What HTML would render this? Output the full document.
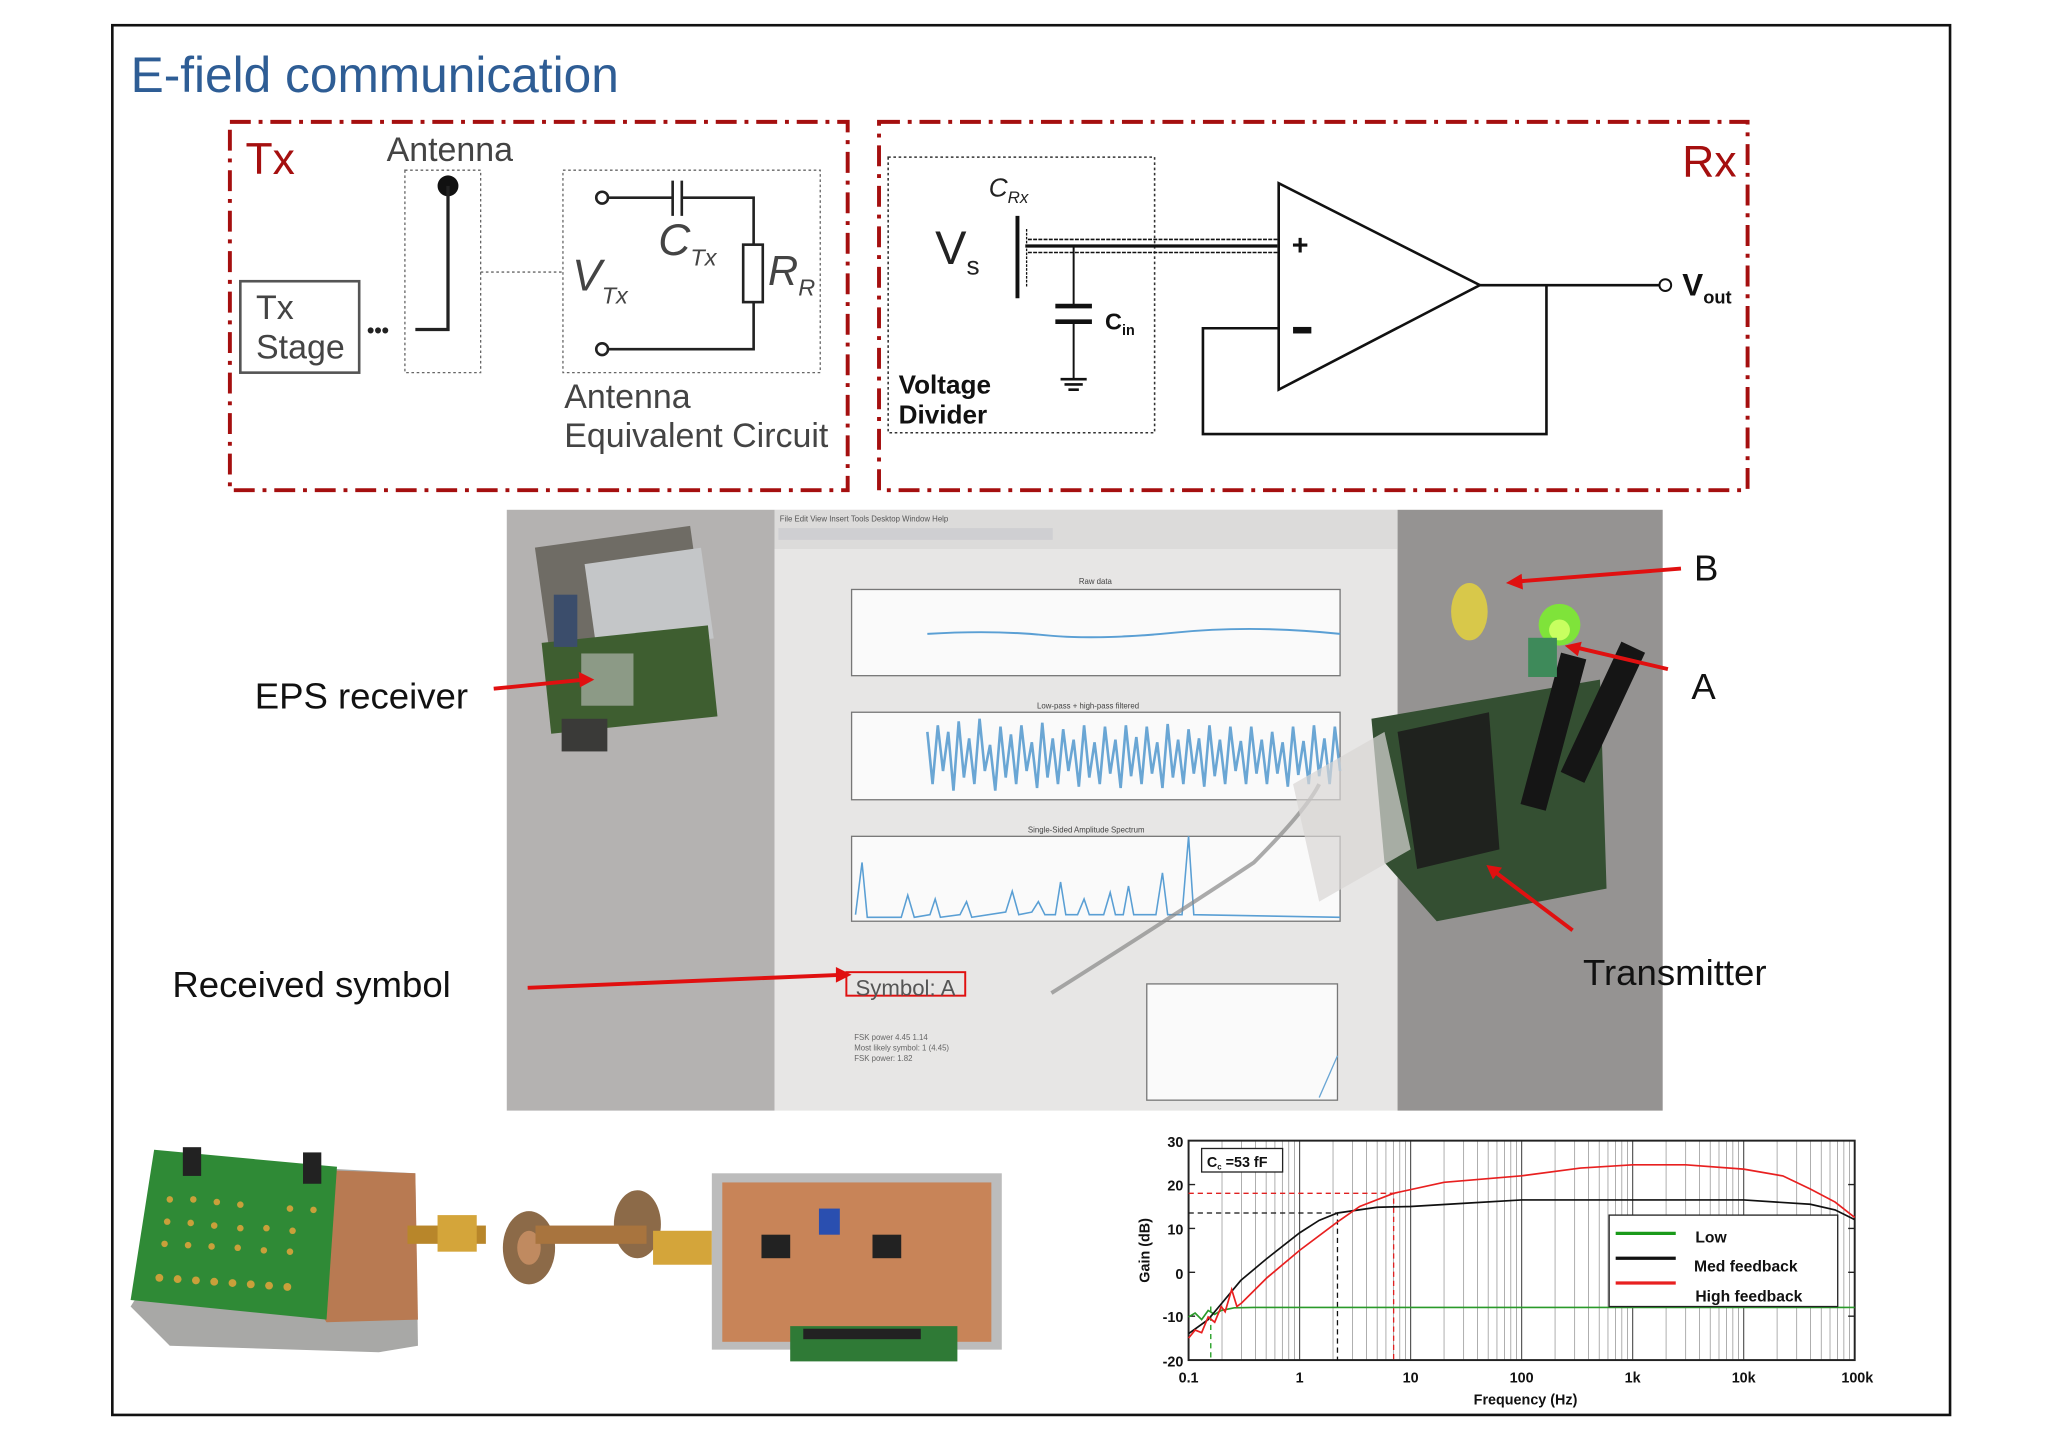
<!DOCTYPE html>
<html><head><meta charset="utf-8"><style>
html,body{margin:0;padding:0;background:#fff;}
svg{display:block;}
text{font-family:"Liberation Sans",sans-serif;}
</style></head><body>
<svg width="2048" height="1448" viewBox="0 0 1568 1108" xmlns="http://www.w3.org/2000/svg">
<rect x="0" y="0" width="1568" height="1108" fill="#fff"/>
<rect x="86" y="19" width="1407" height="1064" fill="none" stroke="#111" stroke-width="2"/>
<text x="100" y="70" font-size="38" fill="#2e5d95">E-field communication</text>

<g fill="none" stroke="#a50f0f" stroke-width="3" stroke-dasharray="16,6,3,6">
<rect x="176" y="93" width="473" height="282"/>
<rect x="673" y="93" width="665" height="282"/>
</g>
<text x="188" y="133" font-size="34" fill="#a50f0f">Tx</text>
<text x="1288" y="135" font-size="34" fill="#a50f0f">Rx</text>
<text x="296" y="123" font-size="26" fill="#444">Antenna</text>
<rect x="310" y="130" width="58" height="155" fill="none" stroke="#666" stroke-width="1" stroke-dasharray="2,2"/>
<circle cx="343" cy="142" r="8" fill="#111"/>
<path d="M343 142 V252 H318" fill="none" stroke="#222" stroke-width="2.5"/>
<text x="281" y="258" font-size="16" fill="#222" font-weight="bold">•••</text>
<rect x="184" y="215" width="91" height="70" fill="none" stroke="#555" stroke-width="2"/>
<text x="196" y="244" font-size="26" fill="#444">Tx</text>
<text x="196" y="274" font-size="26" fill="#444">Stage</text>
<line x1="368" y1="208" x2="430" y2="208" stroke="#666" stroke-dasharray="2,2"/>
<rect x="431" y="130" width="197" height="155" fill="none" stroke="#666" stroke-width="1" stroke-dasharray="2,2"/>
<circle cx="461" cy="151" r="4.5" fill="#fff" stroke="#222" stroke-width="2"/>
<circle cx="461" cy="267" r="4.5" fill="#fff" stroke="#222" stroke-width="2"/>
<path d="M466 151 H515 M522 151 H577 V187 M577 231 V267 H466" fill="none" stroke="#222" stroke-width="2"/>
<path d="M515 138 V165 M522 138 V165" stroke="#222" stroke-width="2"/>
<rect x="569" y="187" width="15" height="44" fill="#fff" stroke="#222" stroke-width="2"/>
<text x="504" y="195" font-size="34" font-style="italic" fill="#444" font-family="Liberation Serif,serif">C<tspan font-size="18" dy="8">Tx</tspan></text>
<text x="438" y="222" font-size="34" font-style="italic" fill="#444" font-family="Liberation Serif,serif">V<tspan font-size="18" dy="10">Tx</tspan></text>
<text x="588" y="218" font-size="32" font-style="italic" fill="#444" font-family="Liberation Serif,serif">R<tspan font-size="18" dy="8">R</tspan></text>
<text x="432" y="312" font-size="26" fill="#444">Antenna</text>
<text x="432" y="342" font-size="26" fill="#444">Equivalent Circuit</text>

<rect x="680" y="120" width="204" height="211" fill="none" stroke="#333" stroke-width="1.2" stroke-dasharray="2,2"/>
<text x="757" y="150" font-size="20" font-style="italic" fill="#222" font-family="Liberation Serif,serif">C<tspan font-size="13" dy="5">Rx</tspan></text>
<text x="716" y="202" font-size="36" fill="#222">V<tspan font-size="20" dy="8">s</tspan></text>
<path d="M779 165 V228" stroke="#111" stroke-width="3"/>
<path d="M786 175 V220" stroke="#111" stroke-width="1" stroke-dasharray="2,1"/>
<path d="M785 188 H978" stroke="#111" stroke-width="2.5"/>
<path d="M787 183 H978 M787 193 H978" stroke="#111" stroke-width="1.2" stroke-dasharray="3,1"/>
<path d="M822 188 V233 M822 246 V290" stroke="#111" stroke-width="1.5"/>
<path d="M808 234 H836 M808 246 H836" stroke="#111" stroke-width="3.5"/>
<path d="M812 290 H832 M815 294 H829 M818 298 H826" stroke="#111" stroke-width="2"/>
<text x="846" y="252" font-size="18" font-weight="bold" fill="#111">C<tspan font-size="11" dy="4">in</tspan></text>
<text x="688" y="301" font-size="20" font-weight="bold" fill="#111">Voltage</text>
<text x="688" y="324" font-size="20" font-weight="bold" fill="#111">Divider</text>
<polygon points="979,140 979,298 1133,218" fill="#fff" stroke="#111" stroke-width="2"/>
<text x="989" y="195" font-size="22" font-weight="bold" fill="#111">+</text>
<rect x="990" y="250" width="14" height="5" fill="#111"/>
<path d="M1133 218 H1270 M1184 218 V332 H921 V251 H979" fill="none" stroke="#111" stroke-width="2"/>
<circle cx="1275" cy="218" r="4.5" fill="#fff" stroke="#111" stroke-width="1.5"/>
<text x="1288" y="226" font-size="24" font-weight="bold" fill="#111">V<tspan font-size="14" dy="6">out</tspan></text>

<rect x="388" y="390" width="205" height="460" fill="#b4b2b1"/>
<rect x="593" y="390" width="477" height="460" fill="#e7e6e5"/>
<rect x="1070" y="390" width="203" height="460" fill="#959392"/>
<rect x="593" y="390" width="477" height="30" fill="#dcdbda"/>
<text x="597" y="399" font-size="6" fill="#555">File  Edit  View  Insert  Tools  Desktop  Window  Help</text>
<rect x="596" y="404" width="210" height="9" fill="#cfcfd2"/>
<g fill="#fafafa" stroke="#777" stroke-width="1">
<rect x="652" y="451" width="374" height="66"/>
<rect x="652" y="545" width="374" height="67"/>
<rect x="652" y="640" width="374" height="65"/>
<rect x="878" y="753" width="146" height="89"/>
</g>
<text x="826" y="447" font-size="6" fill="#444">Raw data</text>
<text x="794" y="542" font-size="6" fill="#444">Low-pass + high-pass filtered</text>
<text x="787" y="637" font-size="6" fill="#444">Single-Sided Amplitude Spectrum</text>
<path d="M710 485 Q760 482 800 486 T900 484 T1026 485" fill="none" stroke="#5a9fd4" stroke-width="1.5"/>
<path d="M710 560 L714 600 L718 555 L722 590 L726 560 L730 605 L734 552 L738 595 L742 565 L746 600 L750 550 L754 590 L758 570 L762 605 L766 556 L770 595 L774 562 L778 600 L782 555 L786 590 L790 568 L794 603 L798 553 L802 595 L806 565 L810 600 L814 558 L818 590 L822 566 L826 602 L830 555 L834 595 L838 568 L842 600 L846 556 L850 592 L854 566 L858 603 L862 555 L866 594 L870 564 L874 600 L878 556 L882 592 L886 568 L890 603 L894 554 L898 595 L902 566 L906 600 L910 558 L914 592 L918 565 L922 602 L926 555 L930 594 L934 566 L938 600 L942 556 L946 590 L950 567 L954 600 L958 556 L962 592 L966 566 L970 600 L974 560 L978 592 L982 568 L986 602 L990 556 L994 593 L998 567 L1002 600 L1006 555 L1010 594 L1014 565 L1018 600 L1022 556 L1026 590" fill="none" stroke="#6aa6d4" stroke-width="2"/>
<path d="M655 700 L660 660 L664 702 L690 702 L695 685 L700 702 L712 700 L716 688 L720 702 L735 700 L740 690 L744 702 L770 698 L775 682 L780 700 L790 698 L795 690 L800 700 L808 700 L812 675 L816 700 L825 700 L830 688 L834 700 L845 700 L850 683 L854 700 L860 700 L864 678 L868 700 L885 700 L890 668 L894 700 L905 700 L910 640 L914 700 L1026 702" fill="none" stroke="#5a9fd4" stroke-width="1.2"/>
<rect x="648" y="744" width="91" height="18" fill="none" stroke="#e01010" stroke-width="1.5"/>
<text x="655" y="762" font-size="17" fill="#555">Symbol: A</text>
<text x="654" y="796" font-size="6" fill="#666">FSK power 4.45 1.14</text>
<text x="654" y="804" font-size="6" fill="#666">Most likely symbol: 1 (4.45)</text>
<text x="654" y="812" font-size="6" fill="#666">FSK power: 1.82</text>
<path d="M1010 840 L1024 808" stroke="#6aa6d4"/>
<path d="M805 760 Q900 700 960 660 Q1000 620 1010 600" fill="none" stroke="#888" stroke-width="3" opacity="0.7"/>
<rect x="418" y="410" width="120" height="130" fill="#6f6c65" transform="rotate(-8 478 475)"/>
<rect x="452" y="425" width="90" height="70" fill="#c4c6c8" transform="rotate(-8 497 460)"/>
<rect x="418" y="485" width="128" height="70" fill="#3e5e30" transform="rotate(-6 482 520)"/>
<rect x="445" y="500" width="40" height="40" fill="#8c9a86"/>
<rect x="424" y="455" width="18" height="40" fill="#3b4d6b"/>
<rect x="430" y="550" width="35" height="25" fill="#3a3a38"/>
<polygon points="1050,550 1225,520 1230,680 1100,705 1060,660" fill="#344f32"/>
<polygon points="1070,560 1140,545 1148,650 1085,665" fill="#1f221e"/>
<rect x="1178" y="500" width="20" height="120" fill="#151515" transform="rotate(15 1189 565)"/>
<rect x="1215" y="490" width="20" height="110" fill="#151515" transform="rotate(25 1226 550)"/>
<ellipse cx="1125" cy="468" rx="14" ry="22" fill="#d8c84a"/>
<circle cx="1194" cy="478" r="16" fill="#7fe33a"/>
<circle cx="1194" cy="482" r="8" fill="#c8ff60"/>
<rect x="1170" y="488" width="22" height="30" fill="#3e8a5a"/>
<polygon points="990,600 1060,560 1080,650 1010,690" fill="#d8d6d4" opacity="0.7"/>
<g stroke="#e01010" stroke-width="3" fill="none">
<path d="M378 527 L448 520"/>
<path d="M1287 435 L1160 445"/>
<path d="M1277 512 L1205 495"/>
<path d="M1204 712 L1143 666"/>
<path d="M404 756 L645 746"/>
</g>
<g fill="#e01010">
<polygon points="455,520 443,514 444,526"/>
<polygon points="1153,446 1165,439 1166,451"/>
<polygon points="1198,494 1211,491 1208,502"/>
<polygon points="1138,662 1150,664 1143,673"/>
<polygon points="652,746 640,740 640,752"/>
</g>
<text x="195" y="542" font-size="28" fill="#111">EPS receiver</text>
<text x="132" y="763" font-size="28" fill="#111">Received symbol</text>
<text x="1297" y="444" font-size="28" fill="#111">B</text>
<text x="1295" y="535" font-size="28" fill="#111">A</text>
<text x="1212" y="754" font-size="28" fill="#111">Transmitter</text>

<polygon points="100,1000 130,1030 290,1035 320,1030 318,898 170,890" fill="#a8a8a6"/>
<polygon points="170,893 318,898 320,1010 250,1012" fill="#b87a52"/>
<polygon points="118,880 258,893 250,1010 100,995" fill="#2f8a36"/>
<g fill="#c9a03a">
<circle cx="130" cy="918" r="2.5"/><circle cx="148" cy="918" r="2.5"/><circle cx="166" cy="920" r="2.5"/><circle cx="184" cy="922" r="2.5"/><circle cx="222" cy="925" r="2.5"/><circle cx="240" cy="926" r="2.5"/>
<circle cx="128" cy="935" r="2.5"/><circle cx="146" cy="936" r="2.5"/><circle cx="164" cy="938" r="2.5"/><circle cx="184" cy="940" r="2.5"/><circle cx="204" cy="940" r="2.5"/><circle cx="224" cy="942" r="2.5"/>
<circle cx="126" cy="952" r="2.5"/><circle cx="144" cy="953" r="2.5"/><circle cx="162" cy="954" r="2.5"/><circle cx="182" cy="955" r="2.5"/><circle cx="202" cy="957" r="2.5"/><circle cx="222" cy="958" r="2.5"/>
<circle cx="122" cy="978" r="3"/><circle cx="136" cy="979" r="3"/><circle cx="150" cy="980" r="3"/><circle cx="164" cy="981" r="3"/><circle cx="178" cy="982" r="3"/><circle cx="192" cy="983" r="3"/><circle cx="206" cy="984" r="3"/><circle cx="220" cy="985" r="3"/>
</g>
<rect x="140" y="878" width="14" height="22" fill="#222"/><rect x="232" y="882" width="14" height="24" fill="#222"/>
<rect x="312" y="938" width="60" height="14" fill="#b8862a"/>
<rect x="335" y="930" width="30" height="28" fill="#d4a53a"/>
<ellipse cx="405" cy="955" rx="20" ry="28" fill="#8c6a48"/>
<ellipse cx="405" cy="955" rx="9" ry="13" fill="#c08a60"/>
<ellipse cx="488" cy="937" rx="18" ry="26" fill="#8c6a48"/>
<rect x="410" y="938" width="85" height="14" fill="#a8743e"/>
<rect x="500" y="942" width="45" height="26" fill="#d4a53a"/>
<rect x="545" y="898" width="222" height="135" fill="#bcbcbc"/>
<rect x="553" y="905" width="206" height="122" fill="#c88458"/>
<rect x="583" y="945" width="22" height="18" fill="#222"/><rect x="668" y="945" width="22" height="18" fill="#222"/>
<rect x="627" y="925" width="16" height="20" fill="#2a4fb0"/>
<rect x="605" y="1015" width="128" height="27" fill="#2f7a36"/>
<rect x="615" y="1017" width="90" height="8" fill="#222"/>

<g stroke="#999" stroke-width="0.6">
<path d="M935.6 873V1041M950.6 873V1041M961.2 873V1041M969.4 873V1041M976.1 873V1041M981.8 873V1041M986.7 873V1041M991.1 873V1041"/>
<path d="M1020.6 873V1041M1035.6 873V1041M1046.2 873V1041M1054.4 873V1041M1061.1 873V1041M1066.8 873V1041M1071.7 873V1041M1076.1 873V1041"/>
<path d="M1105.6 873V1041M1120.6 873V1041M1131.2 873V1041M1139.4 873V1041M1146.1 873V1041M1151.8 873V1041M1156.7 873V1041M1161.1 873V1041"/>
<path d="M1190.6 873V1041M1205.6 873V1041M1216.2 873V1041M1224.4 873V1041M1231.1 873V1041M1236.8 873V1041M1241.7 873V1041M1246.1 873V1041"/>
<path d="M1275.6 873V1041M1290.6 873V1041M1301.2 873V1041M1309.4 873V1041M1316.1 873V1041M1321.8 873V1041M1326.7 873V1041M1331.1 873V1041"/>
<path d="M1360.6 873V1041M1375.6 873V1041M1386.2 873V1041M1394.4 873V1041M1401.1 873V1041M1406.8 873V1041M1411.7 873V1041M1416.1 873V1041"/>
</g>
<g stroke="#555" stroke-width="0.9"><path d="M995 873V1041M1080 873V1041M1165 873V1041M1250 873V1041M1335 873V1041"/></g>
<rect x="910" y="873" width="510" height="168" fill="none" stroke="#222" stroke-width="1.5"/>
<g stroke="#222" stroke-width="1"><path d="M910 906.6h5M910 940.2h5M910 973.8h5M910 1007.4h5M1420 906.6h-5M1420 940.2h-5M1420 973.8h-5M1420 1007.4h-5"/></g>
<path d="M910 928.4H1024V1041" fill="none" stroke="#111" stroke-dasharray="4,3"/>
<path d="M910 913.3H1067V1041" fill="none" stroke="#e02020" stroke-dasharray="4,3"/>
<path d="M927 1000V1041" stroke="#1a9a1a" stroke-dasharray="4,3"/>
<path d="M910 1008 L915 1005 L920 1010 L925 1003 L930 1006 L935 1003 L945 1001 L960 1000.7 L1420 1000.7" fill="none" stroke="#2a9a2a" stroke-width="1.3"/>
<path d="M910 1020.8 L925 1010 L935.6 997.3 L950 980 L969.4 963.7 L995 943.6 L1010 934 L1024 928.4 L1054.4 924 L1080 923.4 L1120 921 L1165 918.4 L1335 918.4 L1386 921.7 L1405 926 L1420 933.5" fill="none" stroke="#111" stroke-width="1.3"/>
<path d="M910 1024.2 L915 1018 L920 1020 L925 1008 L930 1012 L935 1000 L938 1004 L943 987 L947 1000 L950.6 997.3 L970 978 L995 957 L1024 935.2 L1041 923.4 L1067 913.3 L1105.6 904.9 L1165 899.9 L1210 894 L1250 891.5 L1290.6 891.5 L1335 894.8 L1365 900 L1386 910 L1405 920 L1420 931.8" fill="none" stroke="#e82020" stroke-width="1.3"/>
<rect x="920" y="879" width="62" height="18" fill="#fff" stroke="#222" stroke-width="1"/>
<text x="924" y="893" font-size="11" font-weight="bold" fill="#111">C<tspan font-size="6" dy="2">c</tspan><tspan dy="-2"> =53 fF</tspan></text>
<rect x="1232" y="930" width="175" height="70" fill="#fff" stroke="#222" stroke-width="1"/>
<path d="M1237 944H1283" stroke="#1a9a1a" stroke-width="2.5"/>
<path d="M1237 963H1283" stroke="#111" stroke-width="2.5"/>
<path d="M1237 982H1283" stroke="#e82020" stroke-width="2.5"/>
<text x="1298" y="951" font-size="12" font-weight="bold" fill="#111">Low</text>
<text x="1297" y="973" font-size="12" font-weight="bold" fill="#111">Med feedback</text>
<text x="1298" y="996" font-size="12" font-weight="bold" fill="#111">High feedback</text>
<g font-size="11" font-weight="bold" fill="#111" text-anchor="end">
<text x="906" y="878">30</text><text x="906" y="911">20</text><text x="906" y="945">10</text><text x="906" y="979">0</text><text x="906" y="1012">-10</text><text x="906" y="1046">-20</text>
</g>
<g font-size="11" font-weight="bold" fill="#111" text-anchor="middle">
<text x="910" y="1058">0.1</text><text x="995" y="1058">1</text><text x="1080" y="1058">10</text><text x="1165" y="1058">100</text><text x="1250" y="1058">1k</text><text x="1335" y="1058">10k</text><text x="1422" y="1058">100k</text>
<text x="1168" y="1075">Frequency (Hz)</text>
</g>
<text x="880" y="957" font-size="11" font-weight="bold" fill="#111" text-anchor="middle" transform="rotate(-90 880 957)">Gain (dB)</text>
</svg>
</body></html>
